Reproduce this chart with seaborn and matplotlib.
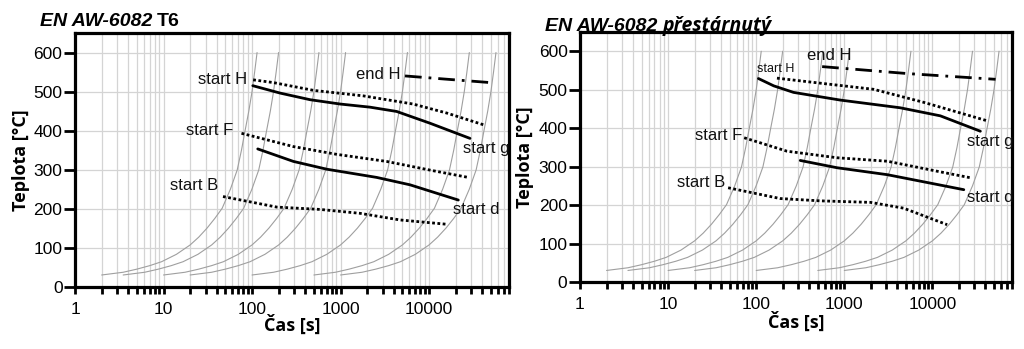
import matplotlib
matplotlib.use("Agg")
import matplotlib.pyplot as plt
from matplotlib.ticker import FixedLocator, LogLocator, NullFormatter, NullLocator
import seaborn as sns
import pandas as pd

# ---- data ---------------------------------------------------------------
# reference cooling curve (starts at 2 s); the others are the same curve
# shifted to their own start time
cool_t = [2, 3.5, 5, 7, 9.5, 14, 20, 25, 31, 38, 46, 57, 68, 76, 83, 92, 100, 107, 114]
cool_T = [30, 37, 45, 54, 64, 83, 107, 127, 150, 175, 201, 250, 299, 350, 397, 450, 500, 550, 600]
cool_starts = [2, 3.5, 10, 20, 100, 500, 1000]

# EN AW-6082 T6
t6_startH_t = [103, 174, 495, 1800, 6600, 15800, 41000]
t6_startH_T = [530, 523, 503, 489, 468, 445, 415]
t6_Hg_t = [102, 208, 455, 990, 2150, 4300, 10200, 29000]
t6_Hg_T = [515, 496, 479, 468, 460, 449, 419, 380]
t6_endH_t = [5350, 15000, 49000]
t6_endH_T = [540, 532, 523]
t6_startF_t = [76, 293, 910, 3300, 11200, 27700]
t6_startF_T = [393, 359, 339, 321, 297, 280]
t6_startd_t = [116, 293, 700, 2560, 6100, 21400]
t6_startd_T = [353, 321, 301, 280, 261, 222]
t6_startB_t = [47, 190, 585, 1660, 4700, 15800]
t6_startB_T = [231, 204, 198, 188, 171, 160]

# EN AW-6082 overaged
oa_startH_t = [172, 580, 2150, 8000, 42000]
oa_startH_T = [530, 516, 501, 467, 419]
oa_Hg_t = [106, 158, 265, 900, 4300, 12300, 35000]
oa_Hg_T = [529, 510, 493, 473, 453, 432, 392]
oa_endH_t = [560, 5150, 52000]
oa_endH_T = [560, 542, 527]
oa_startF_t = [73, 224, 830, 3080, 11300, 27000]
oa_startF_T = [375, 340, 323, 314, 288, 271]
oa_startd_t = [316, 830, 3080, 22700]
oa_startd_T = [316, 297, 279, 240]
oa_startB_t = [48, 187, 530, 1990, 4700, 14700]
oa_startB_T = [245, 217, 211, 207, 192, 149]

x_ticks = [1, 10, 100, 1000, 10000]
x_ticklabels = ["1", "10", "100", "1000", "10000"]
y_ticks = [0, 100, 200, 300, 400, 500, 600]

# ---- style --------------------------------------------------------------
sns.set_style("white")
plt.rcParams["font.family"] = ["Liberation Sans", "DejaVu Sans"]
plt.rcParams.update({"text.color": "black", "axes.labelcolor": "black",
                     "xtick.color": "black", "ytick.color": "black"})

SANS = ["Liberation Sans", "DejaVu Sans"]
GRID = "#d4d4d4"
CURVE = "#9f9f9f"

DOT = (0, (1.0, 0.9))
DASHDOT = (0, (6, 2.5, 1, 2.5))

fig = plt.figure(figsize=(10.24, 3.49), dpi=100)
W, H = 1024, 349
ax1 = fig.add_axes([75 / W, (H - 286.7) / H, 434 / W, 253.7 / H])
ax2 = fig.add_axes([580 / W, (H - 282) / H, 432 / W, 250 / H])


def draw_cooling(ax):
    for t0 in cool_starts:
        k = t0 / cool_t[0]
        df = pd.DataFrame({"t": [v * k for v in cool_t], "T": cool_T})
        sns.lineplot(data=df, x="t", y="T", ax=ax, color=CURVE, lw=0.8,
                     estimator=None, sort=False, zorder=2)


def draw_line(ax, t, T, ls):
    df = pd.DataFrame({"t": t, "T": T})
    sns.lineplot(data=df, x="t", y="T", ax=ax, color="black", lw=2.0,
                 linestyle=ls, estimator=None, sort=False, zorder=4)


def style_axes(ax, label_x, xlab_y):
    ax.set_xscale("log")
    ax.set_xlim(1, 80000)
    ax.set_ylim(0, 650)
    ax.xaxis.set_major_locator(FixedLocator(x_ticks))
    ax.set_xticklabels(x_ticklabels)
    ax.xaxis.set_minor_locator(LogLocator(base=10, subs=range(2, 10), numticks=20))
    ax.xaxis.set_minor_formatter(NullFormatter())
    ax.set_yticks(y_ticks)
    ax.yaxis.set_minor_locator(NullLocator())
    ax.grid(True, which="both", axis="x", color=GRID, lw=0.9, zorder=0)
    ax.grid(True, which="major", axis="y", color=GRID, lw=0.9, zorder=0)
    ax.set_axisbelow(True)
    for s in ax.spines.values():
        s.set_linewidth(2.3)
        s.set_color("black")
        s.set_visible(True)
    ax.tick_params(axis="x", which="both", direction="out", length=5, width=2,
                   bottom=True, top=False, color="black", labelcolor="black", pad=6)
    ax.tick_params(axis="y", which="major", direction="out", length=8, width=2,
                   left=True, right=False, color="black", labelcolor="black", pad=1)
    for lab in ax.get_xticklabels() + ax.get_yticklabels():
        lab.set_family(SANS)
        lab.set_fontsize(12.5)
    ax.set_xlabel("Čas [s]", family=["Open Sans", "DejaVu Sans"],
                  fontweight="bold", fontsize=13, color="black")
    ax.set_ylabel("Teplota [°C]", family=["Open Sans", "DejaVu Sans"],
                  fontweight="bold", fontsize=13, color="black")
    ax.xaxis.label.set_va("center")
    ax.yaxis.label.set_va("center")
    ax.yaxis.set_label_coords(label_x, 0.5)
    ax.xaxis.set_label_coords(0.5, xlab_y)


def label(ax, x, y, s, ha, size=12):
    ax.text(x, y, s, ha=ha, va="center", fontsize=size, family=SANS,
            color="#111111", zorder=5)


# ---- left panel: T6 -----------------------------------------------------
draw_cooling(ax1)
draw_line(ax1, t6_startH_t, t6_startH_T, DOT)
draw_line(ax1, t6_Hg_t, t6_Hg_T, "-")
draw_line(ax1, t6_endH_t, t6_endH_T, DASHDOT)
draw_line(ax1, t6_startF_t, t6_startF_T, DOT)
draw_line(ax1, t6_startd_t, t6_startd_T, "-")
draw_line(ax1, t6_startB_t, t6_startB_T, DOT)
style_axes(ax1, -0.125, -0.15)
label(ax1, 88, 532, "start H", "right")
label(ax1, 4800, 543, "end H", "right")
label(ax1, 62, 400, "start F", "right")
label(ax1, 42, 259, "start B", "right")
label(ax1, 24000, 355, "start g", "left")
label(ax1, 18500, 199, "start d", "left")

# ---- right panel: overaged ---------------------------------------------
draw_cooling(ax2)
draw_line(ax2, oa_startH_t, oa_startH_T, DOT)
draw_line(ax2, oa_Hg_t, oa_Hg_T, "-")
draw_line(ax2, oa_endH_t, oa_endH_T, DASHDOT)
draw_line(ax2, oa_startF_t, oa_startF_T, DOT)
draw_line(ax2, oa_startd_t, oa_startd_T, "-")
draw_line(ax2, oa_startB_t, oa_startB_T, DOT)
style_axes(ax2, -0.128, -0.16)
label(ax2, 103, 555, "start H", "left", size=9)
label(ax2, 380, 588, "end H", "left")
label(ax2, 70, 381, "start F", "right")
label(ax2, 44, 259, "start B", "right")
label(ax2, 25000, 365, "start g", "left")
label(ax2, 25000, 219, "start d", "left")

# ---- titles -------------------------------------------------------------
fig.canvas.draw()
r = fig.canvas.get_renderer()
t1 = fig.text(40 / W, (H - 26) / H, "EN AW-6082", fontsize=14, fontweight="bold",
              style="italic", family=SANS, va="baseline", color="black")
bb = t1.get_window_extent(r)
fig.text((bb.x1 + 4) / W, (H - 26) / H, "T6", fontsize=14, fontweight="bold",
         family=SANS, va="baseline", color="black")

t2 = fig.text(545 / W, (H - 31) / H, "EN AW-6082", fontsize=14, fontweight="bold",
              style="italic", family=SANS, va="baseline", color="black")
bb = t2.get_window_extent(r)
fig.text((bb.x1 + 5) / W, (H - 31) / H, "přestárnutý", fontsize=14, fontweight="bold",
         style="italic", family=["Open Sans", "DejaVu Sans"], va="baseline", color="black")

fig.savefig("out.png", dpi=100)
